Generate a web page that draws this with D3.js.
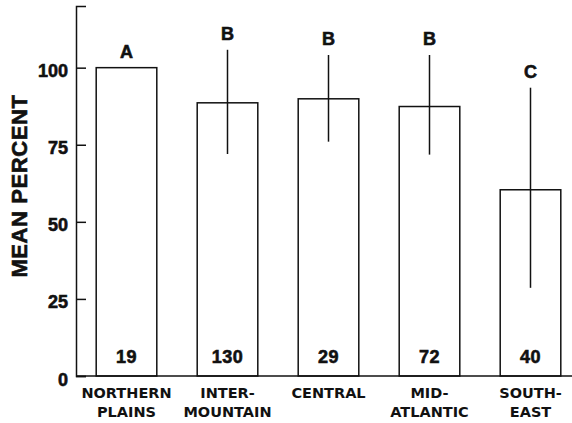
<!DOCTYPE html>
<html>
<head>
<meta charset="utf-8">
<script src="https://cdn.jsdelivr.net/npm/d3@7"></script>
<style>
  body { margin: 0; background: #fff; }
  svg { display: block; font-family: "Liberation Sans", Arial, Helvetica, sans-serif; font-weight: bold; }
  .heavy { stroke: #111; stroke-width: 0.6px; fill: #111; }
</style>
</head>
<body>
<div id="chart"></div>
<script>
// data
const regions = ["NORTHERN PLAINS", "INTER-MOUNTAIN", "CENTRAL", "MID-ATLANTIC", "SOUTH-EAST"];
const regionLines = [["NORTHERN", "PLAINS"], ["INTER-", "MOUNTAIN"], ["CENTRAL"], ["MID-", "ATLANTIC"], ["SOUTH-", "EAST"]];
const means = [100, 88.6, 89.9, 87.4, 60.4];
const upper = [null, 105.8, 104.1, 104.1, 93.5];
const lower = [null, 72.0, 76.0, 71.8, 28.6];
const groups = ["A", "B", "B", "B", "C"];
const counts = [19, 130, 29, 72, 40];
const yTicks = [0, 25, 50, 75, 100];

const width = 572, height = 423;
const margin = { top: 6, left: 76, bottom: 47 };
const plotBottom = height - margin.bottom; // 376

const svg = d3.select("#chart").append("svg")
  .attr("width", width)
  .attr("height", height);

const x = d3.scaleBand()
  .domain(regions)
  .range([margin.left, margin.left + 505])
  .paddingInner(0.4)
  .paddingOuter(0.2);

const y = d3.scaleLinear()
  .domain([0, 120])
  .range([plotBottom, margin.top]);

// bars
svg.append("g").selectAll("rect")
  .data(regions)
  .join("rect")
  .attr("x", d => x(d))
  .attr("y", (d, i) => y(means[i]))
  .attr("width", x.bandwidth())
  .attr("height", (d, i) => plotBottom - y(means[i]))
  .attr("fill", "none")
  .attr("stroke", "#111")
  .attr("stroke-width", 1.5);

// error bars (no bar for northern plains)
svg.append("g").selectAll("line")
  .data(regions.filter((d, i) => upper[i] != null))
  .join("line")
  .attr("x1", d => x(d) + x.bandwidth() / 2)
  .attr("x2", d => x(d) + x.bandwidth() / 2)
  .attr("y1", d => y(upper[regions.indexOf(d)]))
  .attr("y2", d => y(lower[regions.indexOf(d)]))
  .attr("stroke", "#111")
  .attr("stroke-width", 1.5);

// group letters above
svg.append("g").selectAll("text")
  .data(regions)
  .join("text")
  .attr("class", "heavy")
  .attr("x", d => x(d) + x.bandwidth() / 2)
  .attr("y", (d, i) => y(upper[i] != null ? upper[i] : means[i]) - 10)
  .attr("text-anchor", "middle")
  .style("font-size", "18px")
  .text((d, i) => groups[i]);

// sample sizes inside bars
svg.append("g").selectAll("text")
  .data(regions)
  .join("text")
  .attr("class", "heavy")
  .attr("x", d => x(d) + x.bandwidth() / 2)
  .attr("y", plotBottom - 13)
  .attr("text-anchor", "middle")
  .style("font-size", "18px")
  .style("letter-spacing", "0.5px")
  .text((d, i) => counts[i]);

// y axis, ticks pointing inward
const yAxis = svg.append("g")
  .attr("transform", `translate(${margin.left},0)`)
  .call(d3.axisLeft(y).tickValues(yTicks).tickSize(-10).tickPadding(8));
yAxis.select(".domain").attr("stroke", "#111").attr("stroke-width", 1.5);
yAxis.selectAll(".tick line").attr("stroke", "#111").attr("stroke-width", 1.5);
yAxis.selectAll(".tick text")
  .attr("class", "heavy")
  .attr("dy", "0.5em")
  .style("font-size", "18px")
  .style("font-family", "Liberation Sans, Arial, sans-serif")
  .style("font-weight", "bold");

// x axis baseline
svg.append("line")
  .attr("x1", margin.left)
  .attr("x2", width)
  .attr("y1", plotBottom)
  .attr("y2", plotBottom)
  .attr("stroke", "#111")
  .attr("stroke-width", 1.5);

// category labels
const cat = svg.append("g").selectAll("text")
  .data(regions)
  .join("text")
  .attr("x", d => x(d) + x.bandwidth() / 2)
  .attr("y", 398)
  .attr("text-anchor", "middle")
  .attr("fill", "#111")
  .style("font-family", "'DejaVu Sans', sans-serif")
  .style("font-size", "14.5px");
cat.selectAll("tspan")
  .data((d, i) => regionLines[i])
  .join("tspan")
  .attr("x", function () { return this.parentNode.getAttribute("x"); })
  .attr("dy", (d, j) => j === 0 ? 0 : 19)
  .text(d => d);

// y axis title
svg.append("text")
  .attr("class", "heavy")
  .attr("transform", "translate(27,186) rotate(-90)")
  .attr("text-anchor", "middle")
  .style("font-size", "22px")
  .style("letter-spacing", "0.6px")
  .text("MEAN PERCENT");
</script>
</body>
</html>
